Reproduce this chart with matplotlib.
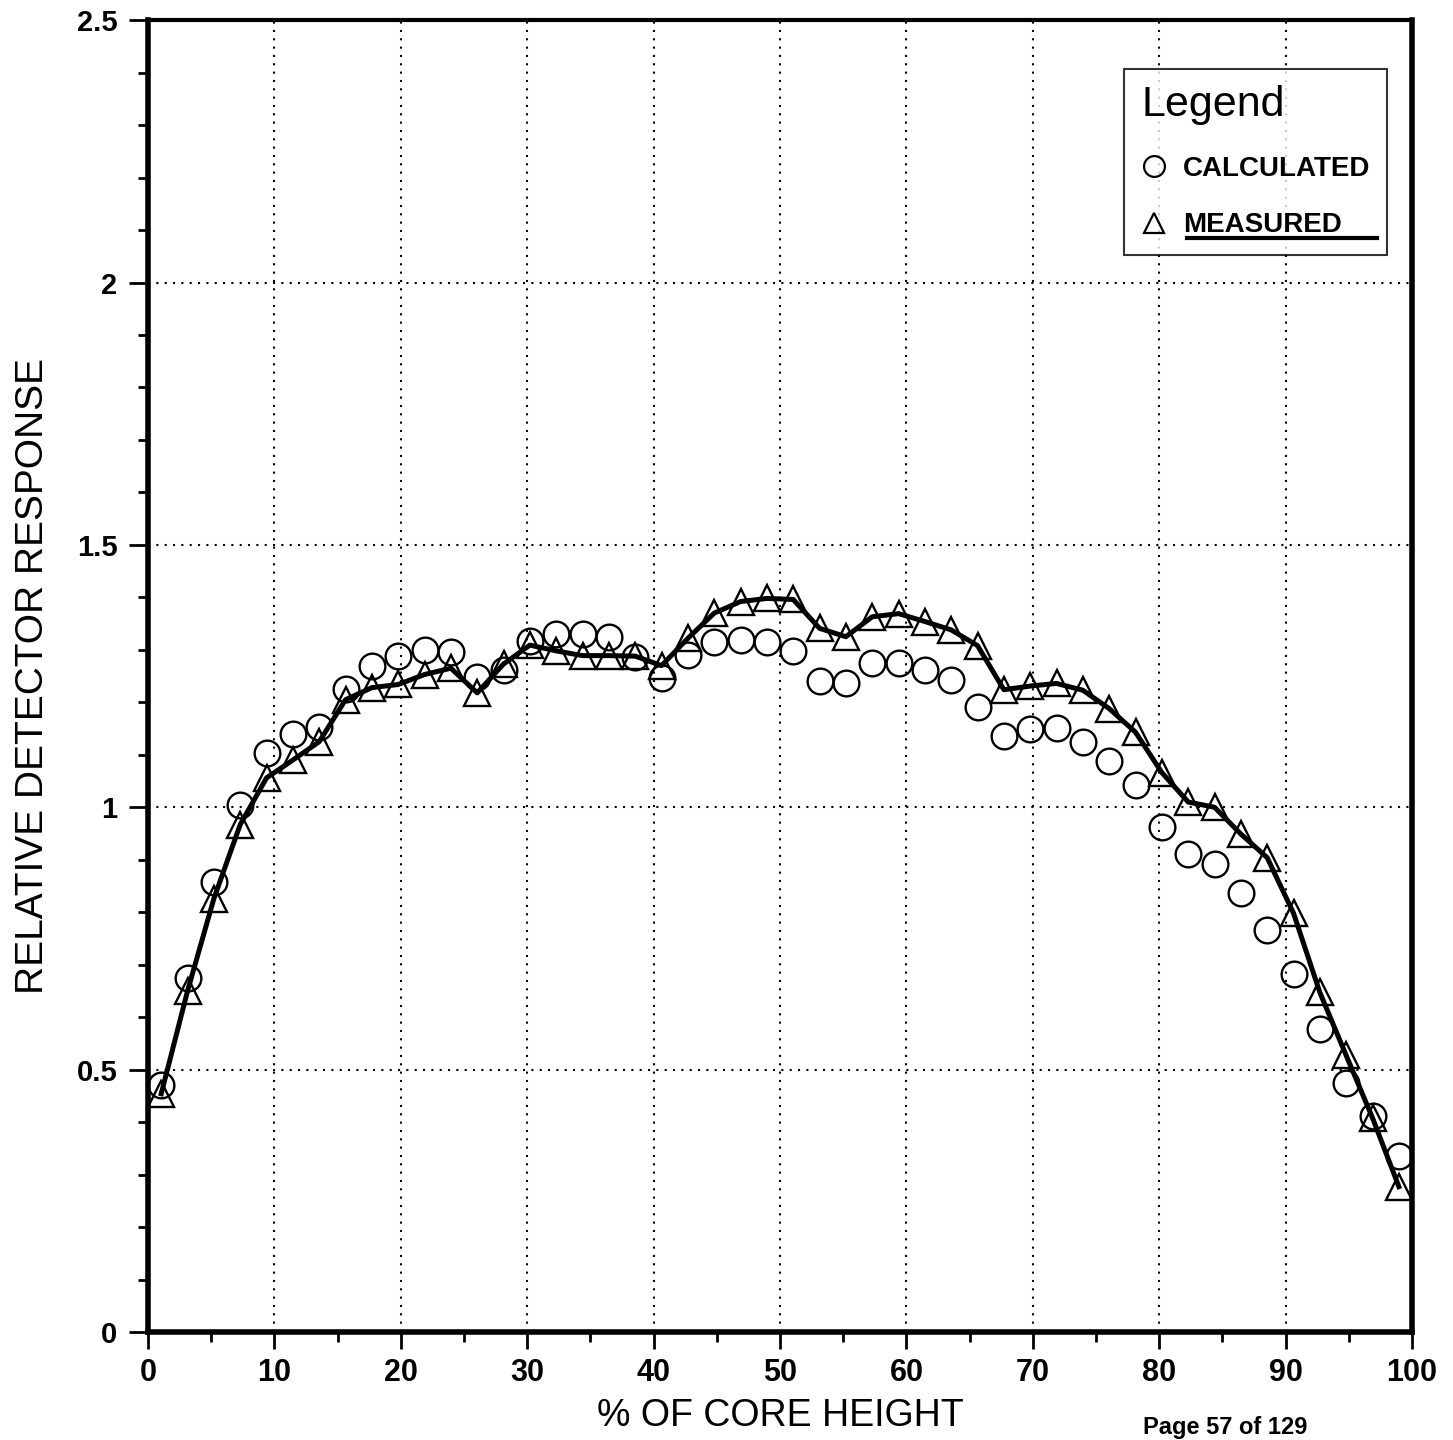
import numpy as np
import matplotlib.pyplot as plt
from matplotlib.lines import Line2D

plt.rcParams['font.family'] = ['Liberation Sans', 'DejaVu Sans']

# 48 detector positions, evenly spaced along the core
core_height = (np.arange(48) + 0.5) * 100 / 48

calculated = [0.470, 0.675, 0.858, 1.005, 1.103, 1.140, 1.153, 1.226, 1.270, 1.289,
              1.299, 1.295, 1.248, 1.261, 1.316, 1.330, 1.331, 1.324, 1.287, 1.247,
              1.290, 1.315, 1.318, 1.315, 1.298, 1.240, 1.237, 1.275, 1.275, 1.261,
              1.242, 1.192, 1.136, 1.150, 1.152, 1.125, 1.089, 1.042, 0.962, 0.911,
              0.892, 0.837, 0.767, 0.682, 0.577, 0.474, 0.411, 0.336]

measured = [0.454, 0.650, 0.826, 0.967, 1.056, 1.090, 1.125, 1.205, 1.228, 1.234,
            1.253, 1.265, 1.218, 1.273, 1.309, 1.298, 1.289, 1.289, 1.288, 1.270,
            1.322, 1.370, 1.392, 1.398, 1.396, 1.341, 1.325, 1.363, 1.369, 1.354,
            1.338, 1.308, 1.224, 1.231, 1.236, 1.223, 1.188, 1.143, 1.066, 1.010,
            1.000, 0.949, 0.904, 0.798, 0.647, 0.527, 0.408, 0.277]

x_ticks = [0, 10, 20, 30, 40, 50, 60, 70, 80, 90, 100]
y_ticks = [0, 0.5, 1, 1.5, 2, 2.5]
y_tick_labels = ['0', '0.5', '1', '1.5', '2', '2.5']

fig = plt.figure(figsize=(14.53, 14.40), dpi=100)
ax = fig.add_axes([0.1019, 0.075, 0.8699, 0.911])

ax.plot(core_height, measured, color='black', lw=3.6, zorder=3)
ax.plot(core_height, calculated, linestyle='none', marker='o', ms=18.5,
        mfc='none', mec='black', mew=1.7, zorder=4)
ax.plot(core_height, measured, linestyle='none', marker='^', ms=18.5,
        mfc='none', mec='black', mew=1.7, zorder=4)

ax.set_xlim(0, 100)
ax.set_ylim(0, 2.5)
ax.set_xticks(x_ticks)
ax.set_xticks(np.arange(0, 101, 5), minor=True)
ax.set_yticks(y_ticks)
ax.set_yticklabels(y_tick_labels)
ax.set_yticks(np.arange(0, 2.51, 0.1), minor=True)

ax.tick_params(axis='x', which='major', length=12, width=2, pad=7, labelsize=22)
ax.tick_params(axis='x', which='minor', length=7, width=2)
ax.tick_params(axis='y', which='major', length=14, width=2, pad=8, labelsize=21)
ax.tick_params(axis='y', which='minor', length=7, width=2)
for lab in ax.get_xticklabels() + ax.get_yticklabels():
    lab.set_fontweight('bold')

ax.grid(True, which='major', color='black', linestyle=(0, (1, 3)), lw=1.5)

for side in ['left', 'bottom', 'right']:
    ax.spines[side].set_linewidth(4)
ax.spines['top'].set_linewidth(3)

ax.set_xlabel('% OF CORE HEIGHT', fontsize=27)
ax.set_ylabel('RELATIVE DETECTOR RESPONSE', fontsize=28)
ax.xaxis.set_label_coords(0.5, -0.05)
ax.yaxis.set_label_coords(-0.077, 0.5)

handles = [Line2D([], [], linestyle='none', marker='o', ms=15, mfc='none', mec='black', mew=1.6),
           Line2D([], [], linestyle='none', marker='^', ms=15, mfc='none', mec='black', mew=1.6)]
leg = ax.legend(handles, ['CALCULATED', 'MEASURED'], title='Legend',
                loc='upper right', bbox_to_anchor=(0.980, 0.963),
                frameon=True, fancybox=False, edgecolor='black',
                prop={'size': 20, 'weight': 'bold'}, title_fontsize=31,
                handletextpad=0.6, handlelength=0.9, borderaxespad=0,
                borderpad=0.6, labelspacing=1.1, alignment='left')
leg.get_frame().set_linewidth(1.5)
leg.get_title().set_fontweight('normal')

# underline under MEASURED
ax.add_line(Line2D([0.822, 0.972], [0.834, 0.834], transform=ax.transAxes,
                   color='black', lw=3, zorder=6))

fig.text(0.843, 0.004, 'Page 57 of 129', fontsize=17, fontweight='bold', ha='center')

fig.savefig('out.png', dpi=100)
